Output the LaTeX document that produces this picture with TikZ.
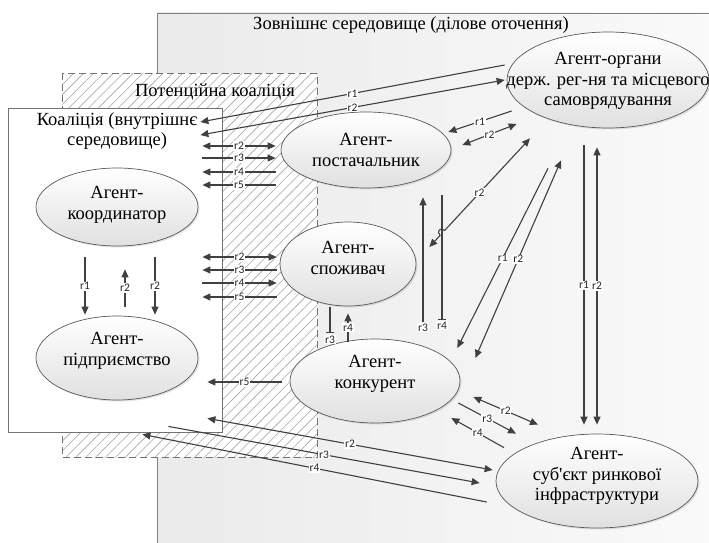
\documentclass[tikz,border=0pt]{standalone}
\usepackage{fontspec}
\setmainfont{Liberation Serif}
\newfontfamily\lblfont{Carlito}
\usetikzlibrary{arrows.meta,calc,shadows,patterns.meta,shapes.geometric}

\tikzset{
  agent/.style={ellipse, draw=black!65, line width=0.7pt, top color=white, bottom color=black!12,
    drop shadow={shadow xshift=1.5pt, shadow yshift=-1.5pt, opacity=0.22}, inner sep=0pt},
  txt/.style={align=center, font=\fontsize{18.5}{20.5}\selectfont, inner sep=0pt},
  rel/.style={color=black!75, line width=1.1pt},
  fwd/.style={rel, ->},
  two/.style={rel, <->},
  stop/.style={rel, -{Bar[width=8pt]}},
  lbl/.style={font=\lblfont\fontsize{11.5}{12}\selectfont, fill=white, inner sep=0.8pt, text=black!85}
}

\begin{document}
\begin{tikzpicture}[x=1pt, y=-1pt, >={Triangle[length=8pt,width=7pt]}]
  \useasboundingbox (0,0) rectangle (709,543);
  % Environment
  \fill[left color=black!8, right color=black!2] (157,13) rectangle (712,546);
  \draw[black!50] (157,546) -- (157,13) -- (712,13);
  \node[txt] (envtitle) at (411,25) {Зовнішнє середовище (ділове оточення)};
  % Potential coalition
  \fill[white] (62,73) rectangle (317,457);
  \draw[black!55, dash pattern=on 7pt off 4pt, pattern={Lines[angle=45,distance=7pt,line width=0.6pt]}, pattern color=black!35] (62,73) rectangle (317,457);
  \node[txt] (pottitle) at (215,92) {Потенційна коаліція};
  % Coalition
  \node[draw=black!55, fill=white, anchor=north west, minimum width=214pt, minimum height=324pt, inner sep=0pt] (coal) at (8,108) {};
  \node[txt] (coaltitle) at (117,131) {Коаліція (внутрішнє\\середовище)};

  % Agents
  \node[agent, minimum width=162pt, minimum height=78pt] (coord) at (117,207) {};
  \node[txt] (coordtext) at (117,205) {Агент-\\координатор};
  \node[agent, minimum width=162pt, minimum height=84pt] (ent) at (117,358) {};
  \node[txt] (enttext) at (117,351) {Агент-\\підприємство};
  \node[agent, minimum width=170pt, minimum height=76pt] (sup) at (366,150) {};
  \node[txt] (suptext) at (366,150) {Агент-\\постачальник};
  \node[agent, minimum width=136pt, minimum height=84pt] (cons) at (348,264) {};
  \node[txt] (constext) at (348,258) {Агент-\\споживач};
  \node[agent, minimum width=170pt, minimum height=84pt] (comp) at (375,381) {};
  \node[txt] (comptext) at (375,374) {Агент-\\конкурент};
  \node[agent, minimum width=202pt, minimum height=96pt] (org) at (608,80) {};
  \node[txt] (orgtext) at (608,81) {Агент-органи\\держ. рег-ня та місцевого\\самоврядування};
  \node[agent, minimum width=202pt, minimum height=94pt] (inf) at (597,481) {};
  \node[txt] (inftext) at (597,476) {Агент-\\суб\textquotesingle єкт ринкової\\інфраструктури};

  % Coordinator and enterprise
  \draw[fwd] ($(coord.south)+(-32,11)$) -- node[lbl]{r1} ($(ent.north)+(-32,-1)$);
  \draw[fwd] ($(ent.north)+(8,-9)$) -- node[lbl]{r2} ($(coord.south)+(8,23)$);
  \draw[fwd] ($(coord.south)+(38,11)$) -- node[lbl]{r2} ($(ent.north)+(38,-1)$);

  % Organs and coalition
  \draw[fwd] ($(org.west)+(-2,-15)$) -- node[lbl]{r1} ($(coal.north east)+(-22,14)$);
  \draw[two] ($(coal.north east)+(-22,27)$) -- node[lbl]{r2} ($(org.west)+(-2,0)$);

  % Coalition and supplier
  \draw[two] ($(coal.north east)+(-20,38)$) -- node[lbl]{r2} ($(sup.west)+(-5,-4)$);
  \draw[fwd] ($(coal.north east)+(-20,50)$) -- node[lbl]{r3} ($(sup.west)+(-5,8)$);
  \draw[fwd] ($(sup.west)+(-5,22)$) -- node[lbl]{r4} ($(coal.north east)+(-20,64)$);
  \draw[fwd] ($(sup.west)+(-5,35)$) -- node[lbl]{r5} ($(coal.north east)+(-20,77)$);

  % Coalition and consumer
  \draw[two] ($(coal.north east)+(-20,149)$) -- node[lbl]{r2} ($(cons.west)+(-3,-7)$);
  \draw[fwd] ($(cons.west)+(-3,6)$) -- node[lbl]{r3} ($(coal.north east)+(-20,162)$);
  \draw[fwd] ($(coal.north east)+(-20,175)$) -- node[lbl]{r4} ($(cons.west)+(-3,19)$);
  \draw[fwd] ($(cons.west)+(-3,33)$) -- node[lbl]{r5} ($(coal.north east)+(-20,189)$);

  % Competitor and coalition
  \draw[fwd] ($(comp.west)+(-8,1)$) -- node[lbl]{r5} ($(coal.north east)+(-15,274)$);

  % Organs and supplier
  \draw[fwd] ($(org.west)+(5,31)$) -- node[lbl]{r1} ($(sup.east)+(-3,-18)$);
  \draw[two] ($(sup.east)+(11,-5)$) -- node[lbl]{r2} ($(org.west)+(10,44)$);

  % Organs and consumer
  \coordinate (hopa) at ($(org.south)+(-78,10)$);
  \coordinate (hopb) at ($(cons.east)+(13,-17)$);
  \draw[two] (hopa) -- node[lbl, pos=0.59]{r2} ($(hopa)!0.848!(hopb)$)
    .. controls +(-4,-4) and +(-4,-4) .. ($(hopa)!0.894!(hopb)$) -- (hopb);

  % Organs and competitor
  \draw[fwd] ($(org.south)+(-60,40)$) -- node[lbl]{r1} ($(comp.east)+(-3,-33)$);
  \draw[two] ($(comp.east)+(15,-23)$) -- node[lbl]{r2} ($(org.south)+(-47,32)$);

  % Organs and infrastructure
  \draw[fwd] ($(org.south)+(-24,17)$) -- node[lbl]{r1} ($(inf.north)+(-13,-9)$);
  \draw[two] ($(org.south)+(-11,19)$) -- node[lbl]{r2} ($(inf.north)+(0,-9)$);

  % Supplier and competitor
  \draw[fwd] ($(comp.north)+(48,-17)$) node[lbl, below=1pt]{r3} -- ($(sup.south)+(57,9)$);
  \draw[stop] ($(sup.south)+(76,7)$) -- ($(comp.north)+(67,-19)$) node[lbl, below=1pt]{r4};

  % Consumer and competitor
  \draw[stop] ($(cons.south)+(-18,1)$) -- ($(comp.north)+(-45,-6)$) node[lbl, below=2pt]{r3};
  \draw[fwd] ($(comp.north)+(-27,3)$) -- node[lbl]{r4} ($(cons.south)+(0,7)$);

  % Competitor and infrastructure
  \draw[two] ($(comp.east)+(13,16)$) -- node[lbl]{r2} ($(inf.north)+(-59,-9)$);
  \draw[fwd] ($(comp.east)+(-2,22)$) -- node[lbl]{r3} ($(inf.north)+(-81,0)$);
  \draw[fwd] ($(inf.north)+(-93,14)$) -- node[lbl]{r4} ($(comp.east)+(-9,37)$);

  % Coalition and infrastructure
  \draw[two] ($(coal.south east)+(-15,-14)$) -- node[lbl]{r2} ($(inf.west)+(-3,-11)$);
  \draw[fwd] ($(coal.south east)+(-54,-6)$) -- node[lbl]{r3} ($(inf.west)+(-16,2)$);
  \draw[fwd] ($(inf.west)+(-9,21)$) -- node[lbl]{r4} ($(coal.south east)+(-80,2)$);
\end{tikzpicture}
\end{document}
